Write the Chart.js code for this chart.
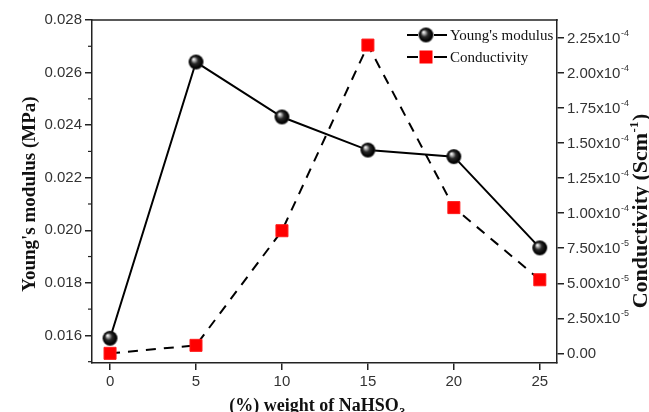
<!DOCTYPE html>
<html><head><meta charset="utf-8">
<script src="https://cdn.jsdelivr.net/npm/chart.js@4"></script>
<style>html,body{margin:0;padding:0;background:#fff}#wrap{width:649px;height:412px}</style>
</head><body><div id="wrap"><canvas id="c" width="649" height="412"></canvas></div>
<script>
// ---- data ----
const weights = [0, 5, 10, 15, 20, 25];
const youngsModulus = [0.01589, 0.02640, 0.02431, 0.02305, 0.02280, 0.01933];
const conductivity = [0.0, 0.57e-5, 8.75e-5, 22.0e-5, 10.4e-5, 5.25e-5];
const xTickValues = [0, 5, 10, 15, 20, 25];
const leftTickValues = [0.016, 0.018, 0.020, 0.022, 0.024, 0.026, 0.028];
const rightTickValues = [0, 2.5e-5, 5.0e-5, 7.5e-5, 1.0e-4, 1.25e-4, 1.5e-4, 1.75e-4, 2.0e-4, 2.25e-4];
const seriesNames = ["Young's modulus", "Conductivity"];
const xTitle = ["(%) weight of NaHSO", "3"];
const leftTitle = "Young's modulus (MPa)";
const rightTitle = ["Conductivity (Scm", "-1", ")"];

const AXIS = '#222';
const SANS = '"Liberation Sans", Arial, sans-serif';
const SERIF = '"Liberation Serif", "Times New Roman", serif';
const TICKFONT = '15px ' + SANS;

// sphere marker
function makeSphere(r) {
  const s = Math.ceil(r * 2 + 2);
  const cv = document.createElement('canvas');
  cv.width = s; cv.height = s;
  const g = cv.getContext('2d');
  const c = s / 2;
  const grad = g.createRadialGradient(c - r * 0.35, c - r * 0.4, 0.3, c, c, r);
  grad.addColorStop(0, '#ffffff');
  grad.addColorStop(0.18, '#b0b0b0');
  grad.addColorStop(0.45, '#2a2a2a');
  grad.addColorStop(0.85, '#000000');
  grad.addColorStop(1, '#303030');
  g.fillStyle = grad;
  g.beginPath(); g.arc(c, c, r, 0, Math.PI * 2); g.fill();
  return cv;
}
const sphere = makeSphere(7.5);

function fixAxis(w, h) {
  return function (scale) {
    if (w != null) scale.width = w;
    if (h != null) scale.height = h;
    scale.paddingTop = 0; scale.paddingBottom = 0; scale.paddingLeft = 0; scale.paddingRight = 0;
  };
}
function setTicks(vals) {
  return function (scale) { scale.ticks = vals.map(v => ({ value: v })); };
}
function sciParts(v) {
  if (v === 0) return ['0.00', ''];
  const e = Math.floor(Math.log10(v) + 1e-9);
  const m = v / Math.pow(10, e);
  return [m.toFixed(2) + 'x10', String(e)];
}

const decor = {
  id: 'decor',
  afterDraw(chart) {
    const ctx = chart.ctx;
    const a = chart.chartArea;
    const yL = chart.scales.y, yR = chart.scales.y1;
    ctx.save();
    // top border
    ctx.strokeStyle = AXIS; ctx.lineWidth = 1.5;
    ctx.beginPath(); ctx.moveTo(a.left - 0.75, a.top); ctx.lineTo(a.right + 0.75, a.top); ctx.stroke();
    // minor ticks left
    ctx.lineWidth = 1.2;
    for (let i = 0; i < leftTickValues.length; i++) {
      const v = leftTickValues[i] - 0.001;
      if (v < yL.min) continue;
      const p = yL.getPixelForValue(v);
      ctx.beginPath(); ctx.moveTo(a.left - 4, p); ctx.lineTo(a.left, p); ctx.stroke();
    }
    // right tick labels
    ctx.fillStyle = '#333';
    ctx.textBaseline = 'middle';
    ctx.textAlign = 'left';
    rightTickValues.forEach(v => {
      const p = yR.getPixelForValue(v);
      const [m, e] = sciParts(v);
      ctx.font = TICKFONT;
      ctx.fillText(m, a.right + 10, p + 1);
      const w = ctx.measureText(m).width;
      if (e) {
        ctx.font = '9px ' + SANS;
        ctx.fillText(e, a.right + 10 + w + 0.5, p - 5);
      }
    });
    // titles
    ctx.fillStyle = '#111';
    // x title
    {
      const f1 = 'bold 18px ' + SERIF, f2 = 'bold 12px ' + SERIF;
      ctx.font = f1;
      const w1 = ctx.measureText(xTitle[0]).width;
      ctx.font = f2;
      const w2 = ctx.measureText(xTitle[1]).width;
      const cx = 317;
      const sx = cx - (w1 + w2) / 2;
      ctx.textBaseline = 'alphabetic';
      ctx.font = f1;
      ctx.fillText(xTitle[0], sx, 411);
      ctx.font = f2;
      ctx.fillText(xTitle[1], sx + w1 + 0.5, 416);
    }
    // left title
    ctx.save();
    ctx.translate(35, 194);
    ctx.rotate(-Math.PI / 2);
    ctx.font = 'bold 19px ' + SERIF; ctx.textAlign = 'center'; ctx.textBaseline = 'alphabetic';
    ctx.fillText(leftTitle, 0, 0);
    ctx.restore();
    // right title
    ctx.save();
    const rf1 = 'bold 22px ' + SERIF, rf2 = 'bold 13px ' + SERIF;
    ctx.font = rf1;
    const r1 = ctx.measureText(rightTitle[0]).width;
    const r3 = ctx.measureText(rightTitle[2]).width;
    ctx.font = rf2;
    const r2 = ctx.measureText(rightTitle[1]).width;
    const tot = r1 + r2 + r3 + 1;
    ctx.translate(647, 211);
    ctx.rotate(-Math.PI / 2);
    ctx.textAlign = 'left'; ctx.textBaseline = 'alphabetic';
    let sx = -tot / 2;
    ctx.font = rf1; ctx.fillText(rightTitle[0], sx, 0); sx += r1 + 0.5;
    ctx.font = rf2; ctx.fillText(rightTitle[1], sx, -9); sx += r2 + 0.5;
    ctx.font = rf1; ctx.fillText(rightTitle[2], sx, 0);
    ctx.restore();
    // legend
    const lx0 = 407, lx1 = 447, mx = 426;
    const rows = [35, 57];
    ctx.strokeStyle = '#000'; ctx.lineWidth = 2;
    rows.forEach((ry, i) => {
      ctx.beginPath(); ctx.moveTo(lx0, ry); ctx.lineTo(mx - 8, ry); ctx.stroke();
      ctx.beginPath(); ctx.moveTo(mx + 8, ry); ctx.lineTo(lx1, ry); ctx.stroke();
      if (i === 0) {
        ctx.drawImage(sphere, mx - sphere.width / 2, ry - sphere.height / 2);
      } else {
        ctx.fillStyle = '#ff0000';
        ctx.fillRect(mx - 6.5, ry - 6.5, 13, 13);
      }
      ctx.fillStyle = '#111';
      ctx.font = '15px ' + SERIF;
      ctx.textAlign = 'left'; ctx.textBaseline = 'middle';
      ctx.fillText(seriesNames[i], 450, ry + 1);
    });
    ctx.restore();
  }
};

new Chart(document.getElementById('c'), {
  type: 'line',
  data: {
    datasets: [
      {
        label: seriesNames[0],
        data: weights.map((w, i) => ({ x: w, y: youngsModulus[i] })),
        yAxisID: 'y',
        borderColor: '#000', borderWidth: 2,
        pointStyle: sphere, pointRadius: 8,
        tension: 0, order: 0
      },
      {
        label: seriesNames[1],
        data: weights.map((w, i) => ({ x: w, y: conductivity[i] })),
        yAxisID: 'y1',
        borderColor: '#000', borderWidth: 2, borderDash: [10, 8],
        pointStyle: 'rect', pointRadius: 8.5,
        pointBackgroundColor: '#ff0000', pointBorderColor: '#ff1a1a', pointBorderWidth: 1,
        tension: 0, order: 1
      }
    ]
  },
  options: {
    responsive: false,
    devicePixelRatio: 1,
    animation: false,
    layout: { padding: { top: 20, left: 0, right: 0, bottom: 0 } },
    plugins: { legend: { display: false }, tooltip: { enabled: false } },
    scales: {
      x: {
        type: 'linear', min: -1.05, max: 26.0,
        afterBuildTicks: setTicks(xTickValues),
        afterFit: fixAxis(null, 49),
        grid: { drawOnChartArea: false, tickLength: 7, color: AXIS, lineWidth: 1.5 },
        border: { color: AXIS, width: 1.5 },
        ticks: { font: { family: SANS, size: 15 }, color: '#333', padding: 3, maxRotation: 0 }
      },
      y: {
        type: 'linear', position: 'left', min: 0.01495, max: 0.028,
        afterBuildTicks: setTicks(leftTickValues),
        afterFit: fixAxis(92, null),
        grid: { drawOnChartArea: false, tickLength: 7, color: AXIS, lineWidth: 1.5 },
        border: { color: AXIS, width: 1.5 },
        ticks: { font: { family: SANS, size: 15 }, color: '#333', padding: 3,
          callback: v => v.toFixed(3) }
      },
      y1: {
        type: 'linear', position: 'right', min: -0.69e-5, max: 2.379e-4,
        afterBuildTicks: setTicks(rightTickValues),
        afterFit: fixAxis(92, null),
        grid: { drawOnChartArea: false, tickLength: 7, color: AXIS, lineWidth: 1.5 },
        border: { color: AXIS, width: 1.5 },
        ticks: { callback: () => '' }
      }
    }
  },
  plugins: [decor]
});
</script>
</body></html>
